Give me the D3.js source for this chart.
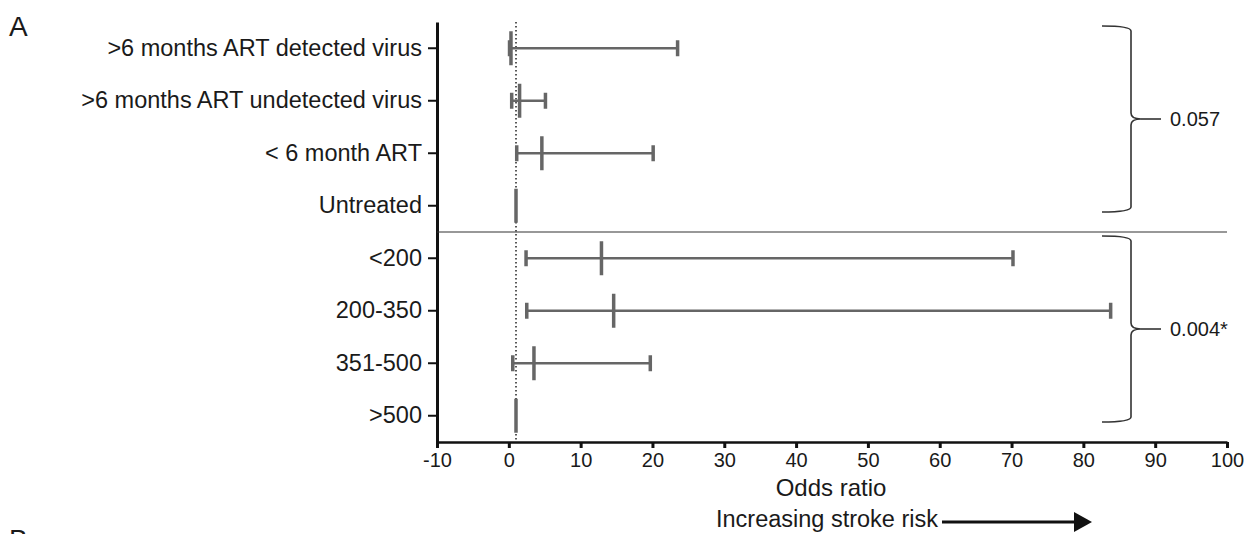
<!DOCTYPE html>
<html>
<head>
<meta charset="utf-8">
<script src="https://cdn.jsdelivr.net/npm/d3@7"></script>
<style>
  body { margin: 0; background: #fff; }
  text { font-family: "Liberation Sans", Arial, sans-serif; fill: #1a1a1a; }
</style>
</head>
<body>
<div id="chart"></div>
<script>
// Rows, top to bottom
var categories = [">6 months ART detected virus", ">6 months ART undetected virus", "< 6 month ART", "Untreated",
                  "<200", "200-350", "351-500", ">500"];
// Odds ratio and 95% CI (null = reference group)
var oddsRatio = [0.3, 1.5, 4.6, 1, 12.9, 14.6, 3.5, 1];
var ciLow = [0.1, 0.4, 1.1, null, 2.4, 2.5, 0.55, null];
var ciHigh = [23.5, 5.1, 20.1, null, 70.2, 83.8, 19.7, null];
var xTicks = [-10, 0, 10, 20, 30, 40, 50, 60, 70, 80, 90, 100];
var refValue = 1;
// Bracketed groups (first row, last row) and p-values
var groupRows = [[0, 3], [4, 7]];
var pValues = ["0.057", "0.004*"];

var svgWidth = 1244, svgHeight = 534;
var margin = { top: 22, right: 17, bottom: 92, left: 437 };

var svg = d3.select("#chart").append("svg")
    .attr("width", svgWidth)
    .attr("height", svgHeight);

var rows = categories.map(function(c, i) {
    return { name: c, or: oddsRatio[i], lo: ciLow[i], hi: ciHigh[i] };
});

// Scales
var x = d3.scaleLinear()
    .domain([-10, 100])
    .range([margin.left, svgWidth - margin.right]);

var y = d3.scaleBand()
    .domain(categories)
    .range([margin.top, svgHeight - margin.bottom]);

var yc = function(name) { return y(name) + y.bandwidth() / 2; };

// Axes
var xAxis = svg.append("g")
    .attr("transform", `translate(0, ${svgHeight - margin.bottom})`)
    .call(d3.axisBottom(x).tickValues(xTicks).tickSize(6).tickSizeOuter(0).tickPadding(5)
        .tickFormat(d => String(d)));
xAxis.select(".domain").attr("stroke", "#111").attr("stroke-width", 2.5);
xAxis.selectAll(".tick line").attr("stroke", "#111").attr("stroke-width", 3);
xAxis.selectAll(".tick text")
    .style("font-size", "20px")
    .style("font-family", "Liberation Sans, Arial, sans-serif")
    .attr("fill", "#1a1a1a");

var yAxis = svg.append("g")
    .attr("transform", `translate(${margin.left}, 0)`)
    .call(d3.axisLeft(y).tickSize(9).tickSizeOuter(0).tickPadding(6));
yAxis.select(".domain").attr("stroke", "#111").attr("stroke-width", 3);
yAxis.selectAll(".tick line").attr("stroke", "#111").attr("stroke-width", 2);
yAxis.selectAll(".tick text")
    .style("font-size", "23.5px")
    .style("font-family", "Liberation Sans, Arial, sans-serif")
    .attr("fill", "#1a1a1a");

// Reference line at OR = 1
svg.append("line")
    .attr("x1", x(refValue)).attr("x2", x(refValue))
    .attr("y1", y.range()[0]).attr("y2", y.range()[1])
    .attr("stroke", "#222")
    .attr("stroke-width", 1.5)
    .attr("stroke-dasharray", "1.5,2.5");

// Separator between the two groups
svg.append("line")
    .attr("x1", x.range()[0]).attr("x2", x.range()[1])
    .attr("y1", y(categories[groupRows[1][0]])).attr("y2", y(categories[groupRows[1][0]]))
    .attr("stroke", "#333")
    .attr("stroke-width", 1.2);

// Error bars
var grey = "#666";
var bars = svg.append("g").selectAll("g")
    .data(rows.filter(function(d) { return d.lo !== null; }))
    .enter().append("g");

bars.append("line")
    .attr("x1", d => x(d.lo)).attr("x2", d => x(d.hi))
    .attr("y1", d => yc(d.name)).attr("y2", d => yc(d.name))
    .attr("stroke", grey).attr("stroke-width", 2.5);

bars.append("line")
    .attr("x1", d => x(d.lo)).attr("x2", d => x(d.lo))
    .attr("y1", d => yc(d.name) - 8).attr("y2", d => yc(d.name) + 8)
    .attr("stroke", grey).attr("stroke-width", 3.5);

bars.append("line")
    .attr("x1", d => x(d.hi)).attr("x2", d => x(d.hi))
    .attr("y1", d => yc(d.name) - 8).attr("y2", d => yc(d.name) + 8)
    .attr("stroke", grey).attr("stroke-width", 3.5);

// Point estimates (reference rows drawn the same way)
svg.append("g").selectAll("line")
    .data(rows)
    .enter().append("line")
    .attr("x1", d => x(d.or)).attr("x2", d => x(d.or))
    .attr("y1", d => yc(d.name) - 17).attr("y2", d => yc(d.name) + 17)
    .attr("stroke", grey).attr("stroke-width", 3.5);

// Braces with p-values
var bx = 1131;
groupRows.forEach(function(g, i) {
    var y0 = y(categories[g[0]]) + 4;
    var y1 = y(categories[g[1]]) + y.bandwidth() - 20;
    var m = (y0 + y1) / 2;
    svg.append("path")
        .attr("d", `M${bx - 29},${y0} Q${bx},${y0} ${bx},${y0 + 5} L${bx},${m - 6} Q${bx},${m} ${bx + 10},${m}` +
                   ` Q${bx},${m} ${bx},${m + 6} L${bx},${y1 - 5} Q${bx},${y1} ${bx - 29},${y1}`)
        .attr("fill", "none")
        .attr("stroke", "#333")
        .attr("stroke-width", 1.6);
    svg.append("line")
        .attr("x1", bx + 10).attr("x2", bx + 30)
        .attr("y1", m).attr("y2", m)
        .attr("stroke", "#333").attr("stroke-width", 1.6);
    svg.append("text")
        .attr("x", bx + 39).attr("y", m)
        .attr("dy", "0.35em")
        .style("font-size", "20px")
        .text(pValues[i]);
});

// Axis titles
svg.append("text")
    .attr("x", 831).attr("y", 496)
    .attr("text-anchor", "middle")
    .style("font-size", "24px")
    .text("Odds ratio");

svg.append("text")
    .attr("x", 938).attr("y", 527)
    .attr("text-anchor", "end")
    .style("font-size", "23.5px")
    .text("Increasing stroke risk");

svg.append("line")
    .attr("x1", 942).attr("x2", 1076)
    .attr("y1", 522).attr("y2", 522)
    .attr("stroke", "#111").attr("stroke-width", 3);
svg.append("path")
    .attr("d", "M1074,512 L1092,522 L1074,532 Z")
    .attr("fill", "#111");

// Panel letters
svg.append("text")
    .attr("x", 9).attr("y", 36)
    .style("font-size", "28px")
    .text("A");
svg.append("text")
    .attr("x", 9).attr("y", 549)
    .style("font-size", "28px")
    .text("B");
</script>
</body>
</html>
